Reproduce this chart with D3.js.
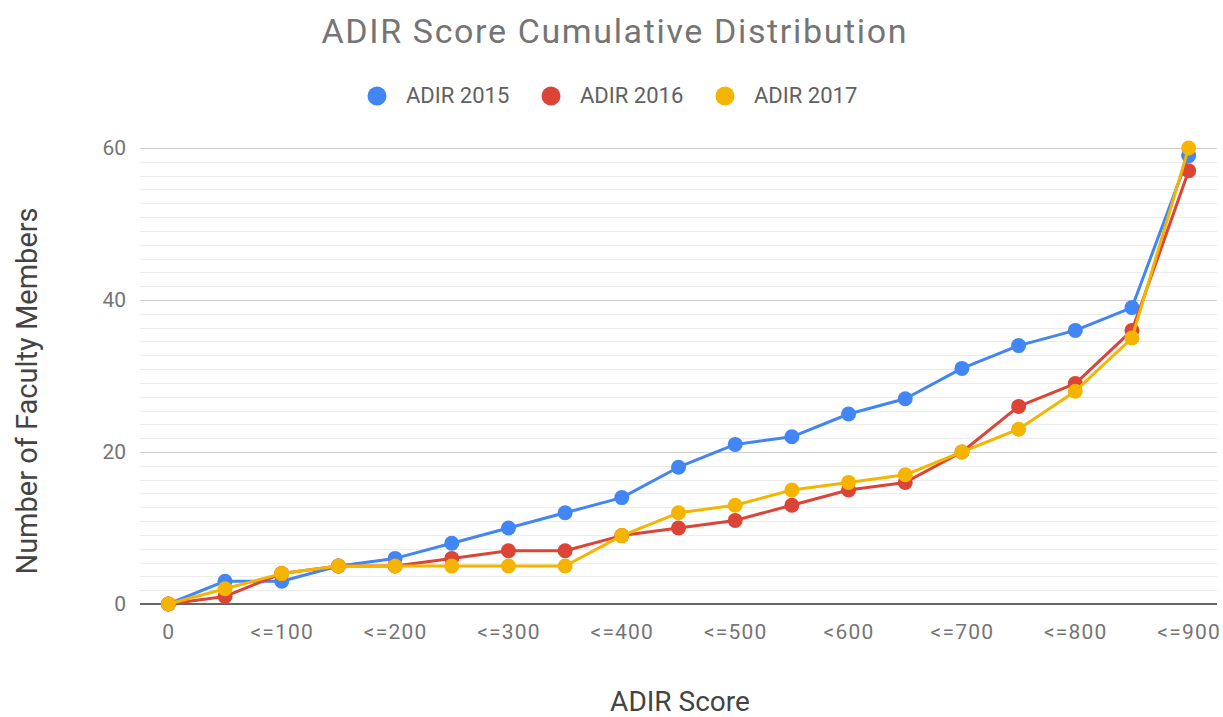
<!DOCTYPE html>
<html lang="en">
  <head>
    <meta charset="utf-8" />
    <title>ADIR Score Cumulative Distribution</title>
    <script src="https://cdnjs.cloudflare.com/ajax/libs/d3/7.8.5/d3.min.js"></script>
    <style type="text/css">
      body { margin: 0; background: #fff; }
      text { font-family: Roboto, "Noto Sans", sans-serif; }
    </style>
  </head>

  <body>
    <script>
      // chart values
      const categories = ['0', '<=50', '<=100', '<=150', '<=200', '<=250', '<=300', '<=350', '<=400',
        '<=450', '<=500', '<=550', '<600', '<=650', '<=700', '<=750', '<=800', '<=850', '<=900'];
      const adir2015 = [0, 3, 3, 5, 6, 8, 10, 12, 14, 18, 21, 22, 25, 27, 31, 34, 36, 39, 59];
      const adir2016 = [0, 1, 4, 5, 5, 6, 7, 7, 9, 10, 11, 13, 15, 16, 20, 26, 29, 36, 57];
      const adir2017 = [0, 2, 4, 5, 5, 5, 5, 5, 9, 12, 13, 15, 16, 17, 20, 23, 28, 35, 60];
      const seriesNames = ['ADIR 2015', 'ADIR 2016', 'ADIR 2017'];
      const yTicks = [0, 20, 40, 60];

      const width = 1223;
      const height = 717;
      const marginTop = 148;
      const marginRight = 6;
      const marginBottom = 113;
      const marginLeft = 140;

      const colors = ['#4285f4', '#db4437', '#f4b400'];
      const series = [adir2015, adir2016, adir2017];

      const svg = d3.select('body')
        .append('svg')
        .attr('width', width)
        .attr('height', height)
        .attr('viewBox', [0, 0, width, height]);

      const x = d3.scalePoint()
        .domain(categories)
        .range([marginLeft, width - marginRight])
        .padding(0.5);

      const y = d3.scaleLinear()
        .domain([0, 60])
        .range([height - marginBottom, marginTop]);

      // minor gridlines (10 between each major)
      const minor = [];
      for (let i = 0; i < yTicks.length - 1; i++) {
        for (let k = 1; k <= 10; k++) minor.push(yTicks[i] + (yTicks[i + 1] - yTicks[i]) * k / 11);
      }
      svg.append('g')
        .attr('stroke', '#ececec')
        .selectAll('line')
        .data(minor)
        .join('line')
        .attr('x1', marginLeft)
        .attr('x2', width - marginRight)
        .attr('y1', d => Math.round(y(d)) + 0.5)
        .attr('y2', d => Math.round(y(d)) + 0.5);

      // y axis with major gridlines
      svg.append('g')
        .attr('transform', `translate(${marginLeft}, 0)`)
        .call(d3.axisLeft(y).tickValues(yTicks).tickSize(-(width - marginLeft - marginRight)).tickPadding(14))
        .call(g => g.select('.domain').remove())
        .call(g => g.selectAll('.tick line').attr('stroke', d => d === 0 ? 'none' : '#cccccc'))
        .call(g => g.selectAll('.tick text')
          .attr('fill', '#757575')
          .attr('font-size', 21)
          .attr('font-family', 'Roboto, sans-serif'));

      // x axis
      svg.append('g')
        .attr('transform', `translate(0, ${height - marginBottom})`)
        .call(d3.axisBottom(x).tickSize(0).tickPadding(20)
          .tickFormat((d, i) => i % 2 === 0 ? d : ''))
        .call(g => g.select('.domain').attr('stroke', '#333').attr('stroke-width', 1.5)
          .attr('d', `M${marginLeft},0H${width - marginRight}`))
        .call(g => g.selectAll('.tick text')
          .attr('fill', '#757575')
          .attr('font-size', 21)
          .attr('letter-spacing', 1.2)
          .attr('font-family', 'Roboto, sans-serif'));

      // lines and points
      const line = d3.line()
        .x((d, i) => x(categories[i]))
        .y(d => y(d));

      series.forEach((values, s) => {
        const g = svg.append('g');
        g.append('path')
          .attr('fill', 'none')
          .attr('stroke', colors[s])
          .attr('stroke-width', 3)
          .attr('stroke-linejoin', 'round')
          .attr('d', line(values));
        g.selectAll('circle')
          .data(values)
          .join('circle')
          .attr('cx', (d, i) => x(categories[i]))
          .attr('cy', d => y(d))
          .attr('r', 7.5)
          .attr('fill', colors[s]);
      });

      // title
      svg.append('text')
        .attr('x', 614)
        .attr('y', 43)
        .attr('text-anchor', 'middle')
        .attr('font-size', 34)
        .attr('textLength', 585)
        .attr('lengthAdjust', 'spacing')
        .attr('fill', '#757575')
        .text('ADIR Score Cumulative Distribution');

      // legend
      const legendX = [377, 551, 725];
      const legend = svg.append('g')
        .selectAll('g')
        .data(seriesNames)
        .join('g')
        .attr('transform', (d, i) => `translate(${legendX[i]}, 96)`);
      legend.append('circle')
        .attr('r', 9.5)
        .attr('fill', (d, i) => colors[i]);
      legend.append('text')
        .attr('x', 29)
        .attr('y', 7)
        .attr('font-size', 22)
        .attr('fill', '#616161')
        .text(d => d);

      // axis titles
      svg.append('text')
        .attr('transform', 'translate(37, 391) rotate(-90)')
        .attr('text-anchor', 'middle')
        .attr('font-family', '"Liberation Sans", Arial, sans-serif')
        .attr('font-size', 29)
        .attr('fill', '#444')
        .text('Number of Faculty Members');

      svg.append('text')
        .attr('x', 680)
        .attr('y', 711)
        .attr('text-anchor', 'middle')
        .attr('font-size', 28)
        .attr('fill', '#444')
        .text('ADIR Score');
    </script>
  </body>
</html>
